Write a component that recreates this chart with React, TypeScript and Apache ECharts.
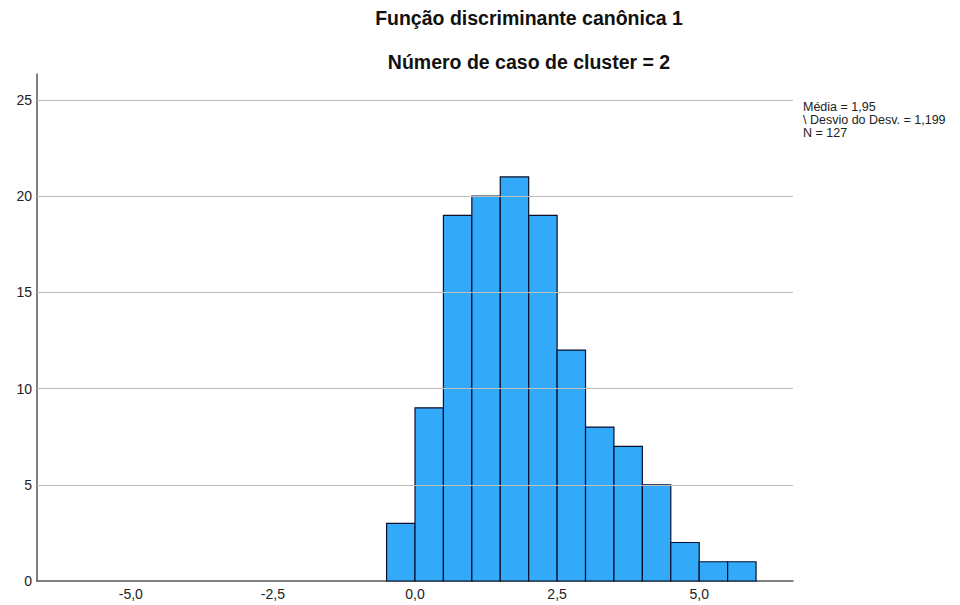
import React, { useEffect, useRef } from "react";
import * as echarts from "echarts";

// Histogram bins (lower edges) and their counts
const binStarts = [-0.5, 0, 0.5, 1, 1.5, 2, 2.5, 3, 3.5, 4, 4.5, 5, 5.5];
const binWidth = 0.5;
const counts = [3, 9, 19, 20, 21, 19, 12, 8, 7, 5, 2, 1, 1];

const xTicks = [-5, -2.5, 0, 2.5, 5];
const yTicks = [0, 5, 10, 15, 20, 25];
const gridValues = [5, 10, 15, 20, 25];

const titleLines = ["Função discriminante canônica 1", "Número de caso de cluster = 2"];
const statsLines = ["Média = 1,95", "\\ Desvio do Desv. = 1,199", "N = 127"];

const FONT = 'Arial, "Liberation Sans", sans-serif';

export default function App() {
  const ref = useRef<HTMLDivElement>(null);

  useEffect(() => {
    if (!ref.current) return;
    const chart = echarts.init(ref.current, undefined, { renderer: "svg" });
    const data = binStarts.map((s, i) => [s, s + binWidth, counts[i]]);

    chart.setOption({
      animation: false,
      backgroundColor: "#ffffff",
      textStyle: { fontFamily: FONT },
      grid: { left: 37, right: 167, top: 74, bottom: 24, containLabel: false },
      xAxis: {
        type: "value",
        min: -6.65,
        max: 6.65,
        axisLine: { show: true, onZero: false, lineStyle: { color: "#555555", width: 1.5 } },
        axisTick: { show: false },
        splitLine: { show: false },
        axisLabel: {
          customValues: xTicks,
          color: "#222222",
          fontSize: 14,
          fontFamily: FONT,
          margin: 6,
          formatter: (v: number) => v.toFixed(1).replace(".", ","),
        },
      },
      yAxis: {
        type: "value",
        min: 0,
        max: 26.35,
        axisLine: { show: true, onZero: false, lineStyle: { color: "#555555", width: 1.5 } },
        axisTick: { show: false },
        splitLine: { show: false },
        axisLabel: {
          customValues: yTicks,
          color: "#222222",
          fontSize: 14,
          fontFamily: FONT,
          margin: 5,
          formatter: (v: number) => String(v),
        },
      },
      graphic: [
        ...titleLines.map((t, i) => ({
          type: "text",
          x: 529,
          y: i === 0 ? 18 : 62,
          style: {
            text: t,
            fontFamily: FONT,
            fontSize: 19.5,
            fontWeight: "bold",
            fill: "#111111",
            textAlign: "center",
            textVerticalAlign: "middle",
          },
        })),
        ...statsLines.map((t, i) => ({
          type: "text",
          x: 803,
          y: 107 + i * 12.8,
          style: {
            text: t,
            fontFamily: FONT,
            fontSize: 12.5,
            fill: "#222222",
            textAlign: "left",
            textVerticalAlign: "middle",
          },
        })),
      ],
      series: [
        {
          type: "line",
          data: [],
          z: 1,
          silent: true,
          markLine: {
            silent: true,
            symbol: "none",
            label: { show: false },
            lineStyle: { color: "#BEBEBE", width: 1, type: "solid" },
            data: gridValues.map((v) => ({ yAxis: v })),
          },
        },
        {
          type: "custom",
          z: 2,
          data,
          encode: { x: [0, 1], y: 2 },
          renderItem: (_params: any, api: any) => {
            const x0 = api.value(0);
            const x1 = api.value(1);
            const c = api.value(2);
            const top = api.coord([x0, c]);
            const bottom = api.coord([x1, 0]);
            return {
              type: "rect",
              shape: {
                x: top[0],
                y: top[1],
                width: bottom[0] - top[0],
                height: bottom[1] - top[1],
              },
              style: { fill: "#33A9F9", stroke: "#0a0f2a", lineWidth: 1.2 },
            };
          },
        },
      ],
    });

    return () => chart.dispose();
  }, []);

  return (
    <div
      ref={ref}
      style={{ position: "fixed", left: 0, top: 0, width: 960, height: 605, background: "#fff" }}
    />
  );
}
